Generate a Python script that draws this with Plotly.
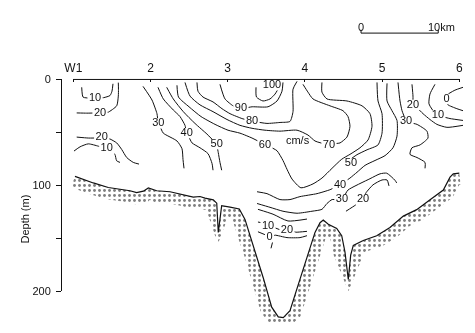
import numpy as np
import plotly.graph_objects as go

# ---------------- data ----------------
# Stations along the section (distance, km)
station_km = [0, 10, 20, 30, 40, 50]
station_names = ["W1", "2", "3", "4", "5", "6"]

depth_ticks = [0, 50, 100, 150, 200]
depth_tick_text = ["0", "", "100", "", "200"]

# Sea-bed profile (km, m)
bottom_km = [0.22, 2.59, 4.53, 6.27, 7.34, 8.21, 9.07, 9.72, 10.80, 12.53, 14.25, 15.54, 16.41,
             17.06, 18.13, 18.58, 18.78, 19.22, 20.30, 21.50, 22.24, 22.89, 23.76, 24.61, 25.70,
             26.55, 27.20, 28.07, 29.15, 30.23, 31.31, 31.96, 32.38, 33.03, 33.68, 34.12, 34.77,
             35.19, 35.62, 35.93, 36.27, 37.56, 39.30, 41.02, 42.75, 44.48, 46.21, 47.93, 48.80,
             49.22, 50.00]
bottom_m = [91.5, 97.7, 102.0, 103.9, 105.1, 106.9, 105.5, 102.5, 105.1, 106.0, 108.5, 111.0, 110.5,
            112.0, 113.6, 116.8, 144.4, 119.2, 120.5, 122.3, 132.1, 147.5, 165.9, 187.4, 215.0,
            224.2, 224.9, 218.2, 193.5, 168.9, 144.4, 135.2, 132.7, 136.7, 138.9, 140.7, 147.5,
            162.9, 188.9, 165.9, 156.7, 152.1, 147.5, 139.8, 129.0, 122.9, 113.6, 104.4, 92.2,
            89.1, 88.5]

# Isotachs (cm/s): distance (km) and depth (m) along each line
w10_km = [1.09, 1.26, 2.16, 2.94, 3.98, 4.75, 5.01, 5.14]
w10_m = [7.4, 16.6, 18.0, 18.0, 17.1, 15.2, 11.1, 4.1]
w20_km = [0.44, 1.74, 3.46, 4.53, 5.62, 5.83, 5.85, 5.83]
w20_m = [31.6, 31.8, 31.6, 30.9, 24.9, 15.7, 9.2, 3.0]
w20b_km = [0.44, 1.94, 3.68, 4.75, 5.62, 6.27, 6.92, 7.77, 8.51]
w20b_m = [54.4, 55.3, 55.3, 56.2, 59.9, 66.1, 73.7, 78.3, 79.9]
w10b_km = [0.09, 0.87, 1.94, 3.20, 4.33, 5.40, 5.62, 6.05]
w10b_m = [67.6, 63.6, 60.8, 62.9, 65.4, 70.7, 76.8, 78.3]

c30w_km = [9.03, 10.19, 10.84, 11.01, 11.66, 13.43, 14.08, 14.21, 14.34]
c30w_m = [6.5, 19.4, 32.3, 41.5, 50.7, 58.1, 65.4, 75.6, 83.9]
c40w_km = [10.97, 11.66, 12.95, 13.82, 14.47, 14.69, 15.38, 16.41, 17.45, 17.97, 18.10]
c40w_m = [7.4, 18.4, 28.8, 35.0, 43.3, 50.7, 59.9, 64.5, 70.0, 79.3, 85.7]
c50w_km = [12.10, 12.95, 14.25, 15.76, 17.32, 18.57, 18.78, 19.00, 19.22]
c50w_m = [7.4, 18.4, 30.4, 41.5, 51.6, 60.8, 69.1, 78.3, 85.7]
c60_km = [13.43, 13.63, 14.99, 16.54, 18.36, 20.04, 21.59, 23.15, 23.92, 24.83, 25.74, 26.39,
          27.16, 27.68, 28.33, 29.49, 31.05, 32.21, 33.51, 34.77, 35.84, 37.14, 38.18, 38.69,
          38.43, 37.40, 35.45, 32.86, 32.21, 32.21]
c60_m = [5.5, 16.6, 25.8, 35.0, 42.4, 47.9, 50.7, 55.3, 58.1, 61.8, 64.5, 67.3, 76.5, 84.8, 94.0,
         102.3, 98.6, 93.1, 83.9, 75.3, 70.7, 64.5, 57.1, 44.2, 32.3, 24.9, 20.3, 18.4, 12.0, 2.8]
c70_km = [14.47, 15.12, 16.41, 18.10, 19.91, 21.59, 23.15, 24.83, 26.77, 28.98, 30.40, 31.31,
          32.86, 34.55, 35.45, 35.84, 35.58, 34.93, 33.25, 31.05, 30.40, 29.75]
c70_m = [2.8, 15.7, 24.0, 30.4, 37.8, 43.3, 46.1, 47.9, 48.8, 47.9, 52.5, 58.1, 61.8, 59.9, 54.4,
         44.2, 35.0, 29.5, 24.9, 18.4, 12.0, 4.6]
c80_km = [16.02, 16.15, 16.80, 18.10, 19.26, 20.30, 21.85, 23.15, 25.09, 26.77, 28.07, 28.46,
          28.46, 28.98]
c80_m = [2.8, 11.1, 16.6, 21.2, 27.6, 32.3, 36.9, 39.6, 41.5, 40.6, 39.6, 30.4, 9.2, 1.8]
c90_km = [19.00, 19.65, 20.69, 21.72, 23.17, 25.22, 26.39, 27.03, 27.16]
c90_m = [4.6, 18.4, 24.9, 27.6, 25.8, 25.8, 20.3, 11.1, 2.8]
c100_km = [23.67, 23.73, 24.57, 25.48, 26.13, 26.52]
c100_m = [7.4, 16.6, 20.3, 18.4, 13.8, 9.2]
c50e_km = [39.34, 39.47, 39.99, 39.99, 39.47, 38.05, 36.75, 35.84]
c50e_m = [2.8, 20.3, 32.3, 50.7, 61.8, 66.4, 71.0, 75.6]

c40_km = [23.80, 25.09, 26.77, 28.07, 29.36, 31.57, 33.25, 34.55, 35.84, 36.75, 37.79, 39.08,
          40.38, 41.41, 41.93, 41.93, 41.28, 40.64, 40.64]
c40_m = [106.0, 107.8, 113.4, 113.4, 110.6, 107.8, 104.1, 99.5, 93.1, 87.6, 81.1, 76.5, 71.9,
         64.5, 53.5, 38.7, 29.5, 20.3, 3.7]
c30_km = [23.80, 25.48, 27.16, 28.98, 30.92, 32.21, 32.86, 33.51, 34.80, 35.58, 38.43, 39.73,
          40.60, 41.67, 41.89]
c30_m = [117.1, 120.7, 124.4, 126.3, 124.4, 122.6, 117.1, 113.4, 113.4, 104.4, 93.7, 89.1, 88.5,
         95.2, 97.7]
c20a_km = [23.92, 25.87, 27.81, 30.27]
c20a_m = [122.6, 127.2, 133.6, 131.8]
c20b_km = [35.32, 36.49, 37.53, 37.92, 38.82, 39.99, 40.64, 40.89]
c20b_m = [124.4, 118.9, 113.4, 106.9, 99.5, 94.9, 94.9, 100.5]
c10_km = [23.92, 24.57, 25.22, 26.13, 26.77, 27.68, 28.85, 30.27]
c10_m = [134.6, 135.5, 138.2, 140.1, 141.9, 141.9, 144.2, 143.4]
c0_km = [23.92, 24.82, 25.48, 26.13, 27.68, 29.36, 30.27]
c0_m = [143.8, 146.5, 149.3, 147.0, 149.3, 149.3, 147.5]
c0t_km = [25.80, 25.61]
c0t_m = [153.9, 159.4]

e30_km = [42.06, 42.32, 42.58, 43.10, 44.52, 45.81, 45.94, 44.91, 43.87, 43.61, 44.52, 45.56, 45.56]
e30_m = [2.8, 20.3, 29.5, 39.6, 42.4, 48.8, 55.3, 61.8, 64.5, 70.7, 73.7, 78.3, 83.9]
e20_km = [43.87, 44.00, 44.00, 44.65, 45.30, 46.20, 47.10, 48.40, 50.48]
e20_m = [4.6, 15.7, 24.9, 27.6, 32.3, 37.8, 42.4, 45.2, 43.3]
e10_km = [46.85, 46.20, 46.07, 46.59, 47.23, 48.79, 50.48]
e10_m = [4.6, 13.8, 23.0, 29.5, 34.1, 36.9, 38.7]
e0_km = [50.48, 49.43, 48.53, 48.27, 48.53, 49.69, 50.48]
e0_m = [7.4, 10.1, 13.8, 18.4, 24.0, 27.6, 29.5]

# Isotach labels: text, position and the line they sit on
label_text = ["10", "20", "20", "10", "30", "40", "50", "60", "70", "80", "90", "100",
              "50", "40", "30", "20", "10", "20", "0", "30", "20", "10", "0"]
label_km = [2.82, 3.46, 3.68, 4.33, 11.01, 14.69, 18.57, 24.83, 33.12, 23.15, 21.72, 25.74,
            35.97, 34.55, 34.80, 37.53, 25.22, 27.68, 25.41, 43.10, 44.00, 47.23, 48.34]
label_m = [17.5, 31.6, 54.9, 65.4, 41.5, 50.7, 61.1, 61.8, 61.8, 39.6, 27.6, 5.5,
           79.3, 99.5, 113.4, 113.4, 138.2, 142.4, 149.3, 39.6, 24.0, 34.1, 18.4]
label_line = ["w10", "w20", "w20b", "w10b", "c30w", "c40w", "c50w", "c60", "c70", "c80", "c90",
              "c100", "c50e", "c40", "c30", "c20b", "c10", "c10", "c0", "e30", "e20", "e10", "e0"]

unit_text = "cm/s"
unit_km, unit_m = 29.05, 58.1

# Scale bar
scale_start_km = 37.27
scale_len_km = 10

lines = {
    "w10": (w10_km, w10_m), "w20": (w20_km, w20_m), "w20b": (w20b_km, w20b_m),
    "w10b": (w10b_km, w10b_m), "c30w": (c30w_km, c30w_m), "c40w": (c40w_km, c40w_m),
    "c50w": (c50w_km, c50w_m), "c60": (c60_km, c60_m), "c70": (c70_km, c70_m),
    "c80": (c80_km, c80_m), "c90": (c90_km, c90_m), "c100": (c100_km, c100_m),
    "c50e": (c50e_km, c50e_m), "c40": (c40_km, c40_m), "c30": (c30_km, c30_m),
    "c20a": (c20a_km, c20a_m), "c20b": (c20b_km, c20b_m), "c10": (c10_km, c10_m),
    "c0": (c0_km, c0_m), "c0t": (c0t_km, c0t_m), "e30": (e30_km, e30_m),
    "e20": (e20_km, e20_m), "e10": (e10_km, e10_m), "e0": (e0_km, e0_m),
}

# ---------------- layout geometry ----------------
W, H = 475, 333
ML, MR, MT, MB = 62, 4, 78, 3
KM_PX = 7.72          # pixels per km
M_PX = 1.085          # pixels per metre of depth
plot_w = W - ML - MR
plot_h = H - MT - MB
x_lo = -11.3 / KM_PX
x_hi = x_lo + plot_w / KM_PX
y_top = -1.5 / M_PX
y_bot = y_top + plot_h / M_PX

FONT = "Liberation Sans, Arial, sans-serif"
INK = "#111111"
LABEL_SIZE = 11
DIGIT_W = 0.556 * LABEL_SIZE


def cut_label_gaps(xs, ys, boxes):
    """Remove the parts of a polyline (pixel units) lying inside label boxes."""
    ox, oy = [], []
    pen = False
    for i in range(len(xs) - 1):
        ax, ay = xs[i], ys[i]
        dx, dy = xs[i + 1] - ax, ys[i + 1] - ay
        cuts = []
        for cx, cy, hw, hh in boxes:
            t0, t1, ok = 0.0, 1.0, True
            for p, q in ((-dx, ax - (cx - hw)), (dx, (cx + hw) - ax),
                         (-dy, ay - (cy - hh)), (dy, (cy + hh) - ay)):
                if p == 0:
                    if q < 0:
                        ok = False
                        break
                else:
                    r = q / p
                    if p < 0:
                        t0 = max(t0, r)
                    else:
                        t1 = min(t1, r)
            if ok and t0 < t1:
                cuts.append((t0, t1))
        cuts.sort()
        pieces, s = [], 0.0
        for c0, c1 in cuts:
            if c0 > s:
                pieces.append((s, c0))
            s = max(s, c1)
        if s < 1.0:
            pieces.append((s, 1.0))
        if not pieces:
            pen = False
        for s0, s1 in pieces:
            if not (pen and s0 == 0.0):
                if ox:
                    ox.append(None)
                    oy.append(None)
                ox.append(ax + s0 * dx)
                oy.append(ay + s0 * dy)
            ox.append(ax + s1 * dx)
            oy.append(ay + s1 * dy)
            pen = s1 == 1.0
    return ox, oy


fig = go.Figure()

# ---- sea bed: stippled band under the bottom line ----
bx = np.array(bottom_km) * KM_PX
by = np.array(bottom_m) * M_PX
dx, dy = np.diff(bx), np.diff(by)
seg = np.hypot(dx, dy)
nx, ny = -dy / seg, dx / seg
vnx = np.concatenate([[nx[0]], nx[:-1] + nx[1:], [nx[-1]]])
vny = np.concatenate([[ny[0]], ny[:-1] + ny[1:], [ny[-1]]])
vn = np.hypot(vnx, vny)
band_px = 12.0
ox_ = bx + band_px * vnx / vn
oy_ = by + band_px * vny / vn
band_x = np.concatenate([bx, ox_[::-1], bx[:1]]) / KM_PX
band_y = np.concatenate([by, oy_[::-1], by[:1]]) / M_PX
fig.add_trace(go.Scatter(
    x=band_x, y=band_y, mode="lines", fill="toself", line=dict(width=0),
    fillcolor="rgba(255,255,255,0)",
    fillpattern=dict(shape=".", fgcolor="#000000", bgcolor="rgba(255,255,255,0)",
                     size=5, solidity=0.26),
    hoverinfo="skip", showlegend=False, xaxis="x", yaxis="y"))

fig.add_trace(go.Scatter(
    x=bottom_km, y=bottom_m, mode="lines", line=dict(color=INK, width=1.2),
    hoverinfo="skip", showlegend=False, xaxis="x", yaxis="y"))

# ---- isotachs, broken where their labels sit ----
for key, (lx, ly) in lines.items():
    boxes = []
    for t, kx, ky, owner in zip(label_text, label_km, label_m, label_line):
        if owner == key:
            boxes.append((kx * KM_PX, ky * M_PX, len(t) * DIGIT_W / 2 + 1.5, 5.3))
    px_ = [v * KM_PX for v in lx]
    py_ = [v * M_PX for v in ly]
    gx, gy = cut_label_gaps(px_, py_, boxes)
    gx = [None if v is None else v / KM_PX for v in gx]
    gy = [None if v is None else v / M_PX for v in gy]
    fig.add_trace(go.Scatter(
        x=gx, y=gy, mode="lines", connectgaps=False,
        line=dict(color=INK, width=1, shape="spline", smoothing=0.6),
        hoverinfo="skip", showlegend=False, xaxis="x", yaxis="y"))

# ---- surface line of the section (station axis) ----
fig.add_trace(go.Scatter(
    x=[station_km[0], station_km[-1]], y=[0, 0], mode="lines",
    line=dict(color=INK, width=1), hoverinfo="skip", showlegend=False,
    xaxis="x", yaxis="y"))

# ---- isotach labels drawn as scatter text ----
fig.add_trace(go.Scatter(
    x=label_km + [unit_km], y=label_m + [unit_m], mode="text",
    text=label_text + [unit_text], textposition="middle center",
    textfont=dict(family=FONT, size=LABEL_SIZE, color=INK),
    hoverinfo="skip", showlegend=False, xaxis="x", yaxis="y"))

# ---- scale bar ----
def paper_y(px_from_top):
    return (H - MB - px_from_top) / plot_h

bar_y = paper_y(32)
tick_y = paper_y(28.5)
scale_end = scale_start_km + scale_len_km
for x0, y0, x1, y1 in ((scale_start_km, bar_y, scale_end, bar_y),
                       (scale_start_km, bar_y, scale_start_km, tick_y),
                       (scale_end, bar_y, scale_end, tick_y)):
    fig.add_shape(type="line", xref="x", yref="paper", x0=x0, y0=y0, x1=x1, y1=y1,
                  line=dict(color=INK, width=1))
fig.add_annotation(x=scale_start_km, y=paper_y(18), xref="x", yref="paper", text="0",
                   showarrow=False, font=dict(family=FONT, size=11, color=INK))
fig.add_annotation(x=scale_end, y=paper_y(18), xref="x", yref="paper",
                   text=f"{scale_len_km}km", showarrow=False, xshift=3,
                   font=dict(family=FONT, size=11, color=INK))

# ---- axis title ----
fig.add_annotation(x=(17 - ML) / plot_w, y=paper_y(223), xref="paper", yref="paper",
                   text="Depth (m)", textangle=-90, showarrow=False,
                   font=dict(family=FONT, size=11, color=INK))

# frame axes live on a second subplot that spans exactly 0-200 m
d0 = (plot_h - 1.5) / plot_h
d200 = (plot_h - 1.5 - 200 * M_PX) / plot_h

fig.update_layout(
    width=W, height=H,
    margin=dict(l=ML, r=MR, t=MT, b=MB),
    paper_bgcolor="white", plot_bgcolor="rgba(0,0,0,0)",
    showlegend=False,
    font=dict(family=FONT, color=INK),
    xaxis=dict(range=[x_lo, x_hi], visible=False, domain=[0, 1]),
    yaxis=dict(range=[y_bot, y_top], visible=False, domain=[0, 1]),
    xaxis2=dict(range=[x_lo, x_hi], domain=[0, 1], anchor="y2", side="top",
                tickmode="array", tickvals=station_km, ticktext=station_names,
                ticks="inside", ticklen=3, tickcolor=INK, showline=False,
                showgrid=False, zeroline=False, ticklabelstandoff=4,
                tickfont=dict(size=12, color=INK)),
    yaxis2=dict(range=[200, 0], domain=[d200, d0], anchor="x2",
                tickmode="array", tickvals=depth_ticks, ticktext=depth_tick_text,
                ticks="outside", ticklen=5, tickcolor=INK, showline=True,
                linecolor=INK, linewidth=1, showgrid=False, zeroline=False,
                ticklabelstandoff=3, tickfont=dict(size=11, color=INK)),
)
fig.add_trace(go.Scatter(x=[None], y=[None], xaxis="x2", yaxis="y2",
                         showlegend=False, hoverinfo="skip"))

# monochrome rendering of the whole figure (keeps small text free of colour fringes)
fig.write_html("out.html",
               post_script="document.getElementById('{plot_id}').style.filter = 'grayscale(1)';")
